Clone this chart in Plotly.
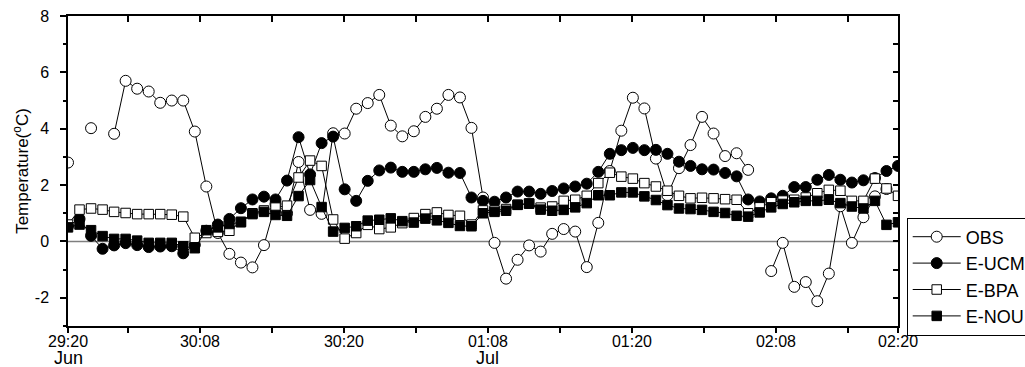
import plotly.graph_objects as go

# hourly samples, 29 Jun 20:00 -> 02 Jul 20:00 (hour index)
hours = list(range(73))

obs = [2.8, None, 4.02, None, 3.82, 5.7, 5.42, 5.32, 4.92, 5.0,
       5.0, 3.9, 1.95, 0.3, -0.44, -0.75, -0.92, -0.13, 1.33, 1.0,
       2.82, 1.12, 0.98, 3.84, 3.83, 4.71, 4.91, 5.2, 4.11, 3.73,
       3.91, 4.42, 4.71, 5.2, 5.11, 4.03, 1.56, -0.05, -1.32, -0.65,
       -0.14, -0.36, 0.27, 0.44, 0.35, -0.91, 0.66, 2.5, 3.93, 5.1,
       4.72, 2.94, 1.64, 2.6, 3.42, 4.42, 3.83, 3.03, 3.13, 2.54,
       None, -1.05, -0.05, -1.61, -1.44, -2.12, -1.14, 1.25, -0.05, 0.86,
       1.6, 1.86, None]

e_ucm = [0.55, 0.8, 0.2, -0.26, -0.14, -0.06, -0.13, -0.2, -0.18, -0.17,
         -0.42, -0.12, 0.38, 0.6, 0.8, 1.18, 1.49, 1.59, 1.49, 2.16,
         3.7, 2.38, 3.49, 3.72, 1.85, 1.44, 2.15, 2.52, 2.62, 2.47,
         2.47, 2.56, 2.61, 2.44, 2.43, 1.56, 1.44, 1.41, 1.56, 1.77,
         1.77, 1.69, 1.79, 1.88, 1.95, 2.05, 2.47, 3.11, 3.24, 3.32,
         3.24, 3.25, 3.11, 2.83, 2.68, 2.56, 2.55, 2.43, 2.31, 1.49,
         1.42, 1.53, 1.62, 1.93, 1.93, 2.19, 2.36, 2.19, 2.09, 2.17,
         2.25, 2.5, 2.68]

e_bpa = [0.6, 1.13, 1.17, 1.13, 1.05, 1.01, 0.97, 0.97, 0.97, 0.95,
         0.88, 0.13, 0.3, 0.34, 0.38, 0.7, 1.0, 1.1, 1.2, 1.27,
         2.27, 2.87, 2.68, 0.78, 0.1, 0.3, 0.59, 0.44, 0.5, 0.65,
         0.83, 0.97, 1.03, 0.94, 0.91, 0.6, 1.1, 1.1, 1.15, 1.3,
         1.35, 1.2, 1.24, 1.44, 1.48, 1.62, 2.07, 2.44, 2.3, 2.23,
         2.07, 1.95, 1.8, 1.62, 1.53, 1.55, 1.53, 1.5, 1.48, 1.0,
         1.21, 1.39, 1.45, 1.48, 1.56, 1.71, 1.83, 1.8, 1.44, 1.44,
         2.23, 1.88, 1.62]

e_nou = [0.5, 0.6, 0.4, 0.19, 0.09, 0.09, 0.03, -0.05, -0.05, -0.05,
         -0.17, -0.24, 0.4, 0.5, 0.62, 0.68, 0.97, 1.05, 0.94, 0.91,
         1.61, 2.18, 1.22, 0.35, 0.48, 0.54, 0.74, 0.77, 0.82, 0.72,
         0.67, 0.81, 0.75, 0.66, 0.55, 0.54, 1.0, 1.05, 1.09, 1.3,
         1.34, 1.13, 1.09, 1.12, 1.21, 1.36, 1.64, 1.64, 1.74, 1.74,
         1.6, 1.47, 1.29, 1.17, 1.15, 1.12, 1.05, 1.01, 0.91, 0.88,
         1.03, 1.21, 1.33, 1.39, 1.44, 1.44, 1.48, 1.36, 1.24, 1.17,
         1.44, 0.59, 0.68]

x_tickvals = [0, 11.45, 23.94, 36.43, 48.92, 61.41, 72]
x_ticktext = ["29:20", "30:08", "30:20", "01:08", "01:20", "02:08", "02:20"]
x_minorvals = [5.2, 17.7, 30.19, 42.68, 55.17, 67.66]
month_labels = [("Jun", 0), ("Jul", 36.43)]

y_tickvals = [-2, 0, 2, 4, 6, 8]
y_ticktext = ["-2", "0", "2", "4", "6", "8"]
y_minorvals = [-3, -1, 1, 3, 5, 7]

FONT = "Arial, Liberation Sans, sans-serif"

series = [
    ("OBS", obs, "circle", "white", 11),
    ("E-UCM", e_ucm, "circle", "black", 11),
    ("E-BPA", e_bpa, "square", "white", 9.5),
    ("E-NOU", e_nou, "square", "black", 9.5),
]

fig = go.Figure()
for name, vals, sym, fill, size in series:
    fig.add_trace(go.Scatter(
        x=hours, y=vals, name=name, mode="lines+markers",
        connectgaps=False,
        line=dict(color="black", width=1),
        marker=dict(symbol=sym, size=size, color=fill,
                    line=dict(color="black", width=1)),
    ))

# dummy trace for mirrored (inside-tick) axes
fig.add_trace(go.Scatter(x=[None], y=[None], xaxis="x2", yaxis="y2",
                         showlegend=False, hoverinfo="skip"))

fig.add_shape(type="line", xref="x", yref="y", x0=0, x1=72, y0=0, y1=0,
              line=dict(color="#7f7f7f", width=1.5), layer="below")

for txt, xv in month_labels:
    fig.add_annotation(text=txt, x=xv, xref="x", y=-0.103, yref="paper",
                       showarrow=False, font=dict(family=FONT, size=18, color="black"),
                       xanchor="center", yanchor="middle")

axis_common = dict(showgrid=False, zeroline=False, showline=True,
                   linecolor="black", linewidth=1.5)

fig.update_layout(
    width=1025, height=367,
    margin=dict(l=68, r=127, t=16, b=41, autoexpand=False),
    plot_bgcolor="white", paper_bgcolor="white",
    font=dict(family=FONT, size=16, color="black"),
    xaxis=dict(range=[0, 72], tickmode="array", tickvals=x_tickvals,
               ticktext=x_ticktext, ticks="outside", ticklen=5, tickwidth=1.5,
               tickcolor="black", ticklabelstandoff=-5,
               minor=dict(tickmode="array", tickvals=x_minorvals, ticks="outside",
                          ticklen=5, tickwidth=1.5, tickcolor="black"),
               **axis_common),
    yaxis=dict(range=[-3, 8], tickmode="array", tickvals=y_tickvals,
               ticktext=y_ticktext, ticklabelstandoff=8,
               ticks="outside", ticklen=6, tickwidth=1.5, tickcolor="black",
               minor=dict(tickmode="array", tickvals=y_minorvals, ticks="outside",
                          ticklen=3, tickwidth=1.5, tickcolor="black"),
               title=dict(text="Temperature(<sup>o</sup>C)", font=dict(size=17),
                          standoff=2),
               **axis_common),
    xaxis2=dict(overlaying="x", side="top", range=[0, 72], tickmode="array",
                tickvals=x_tickvals + x_minorvals, ticks="inside", ticklen=6,
                tickwidth=1.5, tickcolor="black", showticklabels=False,
                anchor="y2", **axis_common),
    yaxis2=dict(overlaying="y", side="right", range=[-3, 8], tickmode="array",
                tickvals=y_tickvals + y_minorvals, ticks="inside", ticklen=5,
                tickwidth=1.5, tickcolor="black", showticklabels=False,
                anchor="x2", **axis_common),
    legend=dict(x=1.0105, y=0.35, xanchor="left", yanchor="top",
                bordercolor="black", borderwidth=1, bgcolor="white",
                itemwidth=48,
                font=dict(family=FONT, size=18), tracegroupgap=0),
    showlegend=True,
)

fig.write_html("out.html",
               config={"displayModeBar": False},
               post_script="document.body.style.margin='0px';"
                           "document.body.style.overflow='hidden';")
